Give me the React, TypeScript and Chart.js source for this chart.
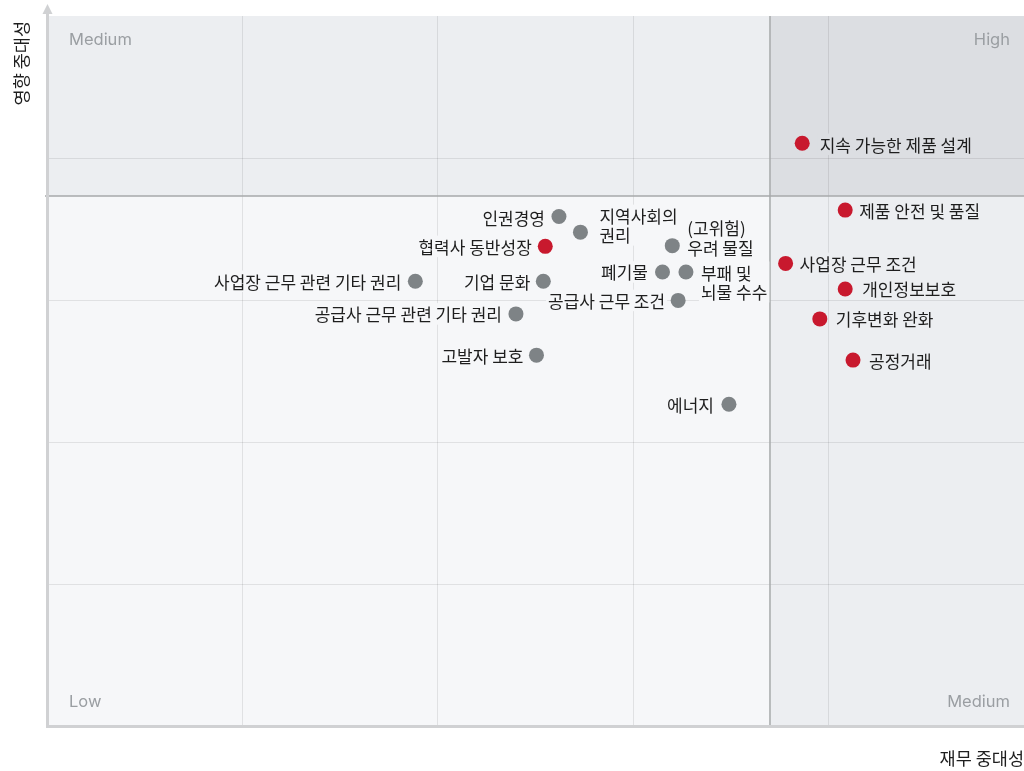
import React, { useEffect, useRef } from "react";
import { Chart, registerables } from "chart.js";

Chart.register(...registerables);

// ---- data ----
const topics: string[] = [
  "지속 가능한 제품 설계",
  "제품 안전 및 품질",
  "사업장 근무 조건",
  "개인정보보호",
  "기후변화 완화",
  "공정거래",
  "인권경영",
  "지역사회의\n권리",
  "협력사 동반성장",
  "(고위험)\n우려 물질",
  "폐기물",
  "부패 및\n뇌물 수수",
  "사업장 근무 관련 기타 권리",
  "기업 문화",
  "공급사 근무 조건",
  "공급사 근무 관련 기타 권리",
  "고발자 보호",
  "에너지",
];
const financialScores: number[] = [7.73, 8.17, 7.56, 8.17, 7.91, 8.25, 5.24, 5.46, 5.1, 6.4, 6.3, 6.54, 3.77, 5.08, 6.46, 4.8, 5.01, 6.98];
const impactScores: number[] = [8.21, 7.27, 6.52, 6.16, 5.74, 5.16, 7.18, 6.96, 6.76, 6.77, 6.4, 6.4, 6.27, 6.27, 6.0, 5.81, 5.23, 4.54];
const isMaterial: boolean[] = [true, true, true, true, true, true, false, false, true, false, false, false, false, false, false, false, false, false];
const xThreshold = 7.4;
const yThreshold = 7.47;
const quadrantLabels = { topLeft: "Medium", topRight: "High", bottomLeft: "Low", bottomRight: "Medium" };
const xAxisTitle = "재무 중대성";
const yAxisTitle = "영향 중대성";

// ---- label layout (not data) ----
const labelSide: ("left" | "right")[] = ["right", "right", "right", "right", "right", "right", "left", "right", "left", "right", "left", "right", "left", "left", "left", "left", "left", "left"];
const labelGap: number[] = [17.5, 14, 14, 17, 16, 16, 14, 19, 13.5, 15, 14.5, 15, 14, 13, 13, 14, 13, 15];
const labelShiftY: number[] = [1, 0, 0, 0, 0, 0, 1, -7, 0, -8, 0, 10, 0, 0, 0, 0, 0, 0];

const COLORS = {
  low: "#f6f7f9",
  medium: "#eceef1",
  high: "#dcdee2",
  red: "#c8192e",
  gray: "#7e8386",
  axis: "#d0d1d3",
  threshold: "#a7a9ab",
  text: "#1e1e1e",
  corner: "#9a9ea2",
};
const LABEL_FONT = "17px 'Noto Sans CJK KR', sans-serif";
const CORNER_FONT = "16.5px Inter, 'Noto Sans', sans-serif";
const TITLE_FONT = "17.5px 'Noto Sans CJK KR', sans-serif";

function quadrantColor(px: number, py: number, tx: number, ty: number) {
  const right = px > tx;
  const top = py < ty;
  if (right && top) return COLORS.high;
  if (!right && !top) return COLORS.low;
  return COLORS.medium;
}

const matrixPlugin = {
  id: "matrix",
  beforeDraw(chart: any) {
    const { ctx, chartArea: a, scales } = chart;
    const tx = scales.x.getPixelForValue(xThreshold);
    const ty = scales.y.getPixelForValue(yThreshold);
    ctx.save();
    ctx.fillStyle = COLORS.medium;
    ctx.fillRect(a.left, a.top, tx - a.left, ty - a.top);
    ctx.fillStyle = COLORS.high;
    ctx.fillRect(tx, a.top, a.right - tx, ty - a.top);
    ctx.fillStyle = COLORS.low;
    ctx.fillRect(a.left, ty, tx - a.left, a.bottom - ty);
    ctx.fillStyle = COLORS.medium;
    ctx.fillRect(tx, ty, a.right - tx, a.bottom - ty);
    ctx.restore();
  },
  beforeDatasetsDraw(chart: any) {
    const { ctx, chartArea: a, scales } = chart;
    const xs = scales.x;
    const ys = scales.y;
    const tx = xs.getPixelForValue(xThreshold);
    const ty = ys.getPixelForValue(yThreshold);
    ctx.save();

    // threshold lines
    ctx.strokeStyle = COLORS.threshold;
    ctx.lineWidth = 1.5;
    ctx.beginPath();
    ctx.moveTo(tx, a.top);
    ctx.lineTo(tx, a.bottom);
    ctx.moveTo(a.left - 2, ty);
    ctx.lineTo(a.right, ty);
    ctx.stroke();

    // axes
    ctx.strokeStyle = COLORS.axis;
    ctx.lineWidth = 3;
    ctx.beginPath();
    ctx.moveTo(a.left + 0.5, 12);
    ctx.lineTo(a.left + 0.5, a.bottom + 1);
    ctx.moveTo(a.left - 1, a.bottom - 0.5);
    ctx.lineTo(a.right, a.bottom - 0.5);
    ctx.stroke();
    ctx.fillStyle = COLORS.axis;
    ctx.beginPath();
    ctx.moveTo(a.left + 0.5, 4);
    ctx.lineTo(a.left - 4.5, 14);
    ctx.lineTo(a.left + 5.5, 14);
    ctx.closePath();
    ctx.fill();

    // quadrant corner labels
    ctx.font = CORNER_FONT;
    ctx.fillStyle = COLORS.corner;
    ctx.textBaseline = "alphabetic";
    ctx.textAlign = "left";
    ctx.fillText(quadrantLabels.topLeft, a.left + 22, a.top + 28.5);
    ctx.fillText(quadrantLabels.bottomLeft, a.left + 22, a.bottom - 20);
    ctx.textAlign = "right";
    ctx.fillText(quadrantLabels.topRight, a.right - 14, a.top + 28.5);
    ctx.fillText(quadrantLabels.bottomRight, a.right - 14, a.bottom - 20);

    // axis titles
    ctx.font = TITLE_FONT;
    ctx.fillStyle = COLORS.text;
    ctx.textAlign = "right";
    ctx.textBaseline = "middle";
    ctx.fillText(xAxisTitle, a.right, 758);
    ctx.save();
    ctx.translate(21, 21);
    ctx.rotate(-Math.PI / 2);
    ctx.textAlign = "right";
    ctx.textBaseline = "middle";
    ctx.fillText(yAxisTitle, 0, 0);
    ctx.restore();

    // point labels
    ctx.font = LABEL_FONT;
    const lineH = 19.5;
    topics.forEach((t, i) => {
      const px = xs.getPixelForValue(financialScores[i]);
      const py = ys.getPixelForValue(impactScores[i]);
      const lines = t.split("\n");
      const w = Math.max(...lines.map((l) => ctx.measureText(l).width));
      const cy = py + labelShiftY[i];
      const side = labelSide[i];
      const x0 = side === "right" ? px + labelGap[i] : px - labelGap[i] - w;
      ctx.fillStyle = quadrantColor(px, py, tx, ty);
      ctx.fillRect(x0 - 2, cy - (lines.length * lineH) / 2 - 1, w + 4, lines.length * lineH + 2);
      ctx.fillStyle = COLORS.text;
      ctx.textAlign = "left";
      ctx.textBaseline = "middle";
      lines.forEach((l, j) => {
        ctx.fillText(l, x0, cy + (j - (lines.length - 1) / 2) * lineH + 1);
      });
    });
    ctx.restore();
  },
};

export default function App() {
  const ref = useRef<HTMLCanvasElement | null>(null);
  useEffect(() => {
    if (!ref.current) return;
    const gridColor = (c: any) =>
      c.tick && (c.tick.value <= 0 || c.tick.value >= 10) ? "rgba(0,0,0,0)" : "rgba(0,0,0,0.085)";
    const chart = new Chart(ref.current, {
      type: "scatter",
      data: {
        datasets: [
          {
            data: financialScores.map((v, i) => ({ x: v, y: impactScores[i] })),
            pointBackgroundColor: isMaterial.map((m) => (m ? COLORS.red : COLORS.gray)),
            pointBorderWidth: 0,
            pointRadius: 7.5,
            pointHoverRadius: 7.5,
          },
        ],
      },
      options: {
        responsive: false,
        animation: false,
        events: [],
        layout: { autoPadding: false, padding: { left: 47, top: 16, right: 0, bottom: 44 } },
        plugins: { legend: { display: false }, tooltip: { enabled: false } },
        scales: {
          x: {
            type: "linear",
            min: 0,
            max: 10,
            ticks: { display: false, stepSize: 2 },
            border: { display: false },
            grid: { color: gridColor, lineWidth: 1, drawTicks: false },
          },
          y: {
            type: "linear",
            min: 0,
            max: 10,
            ticks: { display: false, stepSize: 2 },
            border: { display: false },
            grid: { color: gridColor, lineWidth: 1, drawTicks: false },
          },
        },
      },
      plugins: [matrixPlugin],
    });
    return () => chart.destroy();
  }, []);
  return (
    <div style={{ position: "absolute", left: 0, top: 0, width: 1024, height: 771 }}>
      <canvas ref={ref} width={1024} height={771} style={{ display: "block" }} />
    </div>
  );
}
